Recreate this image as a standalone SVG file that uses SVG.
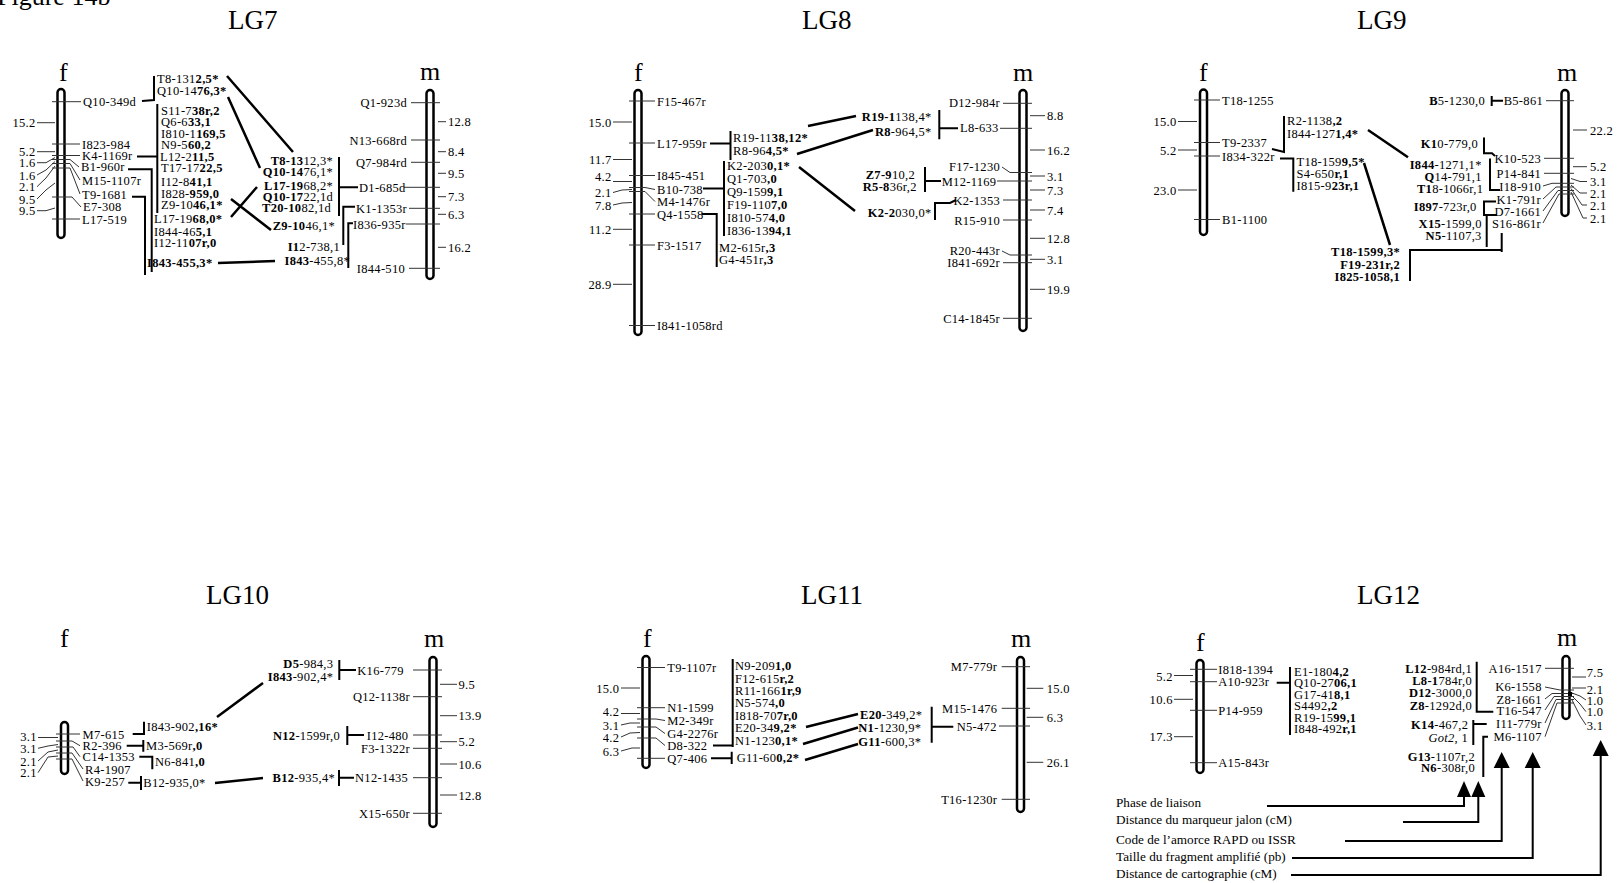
<svg xmlns="http://www.w3.org/2000/svg" width="1622" height="883" viewBox="0 0 1622 883">
<style>
text{font-family:"Liberation Serif","Times New Roman",serif;fill:#000}
.t{font-size:12.5px;letter-spacing:.3px}
.e{text-anchor:end}
.b{font-weight:bold}
.i{font-style:italic}
.ttl{font-size:27px}
.fm{font-size:26px}
.lg{font-size:13.2px}
.chr{fill:#fff;stroke:#000;stroke-width:2.5}
.tk{fill:none;stroke:#333;stroke-width:1}
.br{fill:none;stroke:#000;stroke-width:2}
.cx{fill:none;stroke:#000;stroke-width:2.5}
.ah{fill:#000}
</style>
<rect width="1622" height="883" fill="#fff"/>
<text x="-3" y="5" style="font-size:26px">Figure 14b</text>

<!-- ================= LG7 ================= -->
<g id="LG7">
<text class="ttl" x="228" y="29">LG7</text>
<g id="LG7-f">
<text class="fm" x="59" y="81">f</text>
<rect class="chr" x="57.5" y="89" width="7" height="149" rx="3.5"/>
<path class="tk" d="M52,101.7H81M52,144H80M52,155.5H80M52,159.5H70L79,167M52,163.5H70L80,180M52,168H70L80,194M52,197H72L81,207M52,219H80"/>
<path class="tk" d="M37,122.7H55M37,151.7H55M37,162.7L46,162.7L55,157.5M37,175L46,170L55,161.5M37,186.7L46,178L55,166M37,199L46,190L55,183M37,210.7H46L55,208"/>
<g class="t">
<text x="83" y="106">Q10-349d</text><text x="82" y="148.5">I823-984</text><text x="82" y="159.5">K4-1169r</text>
<text x="81" y="171">B1-960r</text><text x="82" y="184.5">M15-1107r</text><text x="82" y="198.5">T9-1681</text>
<text x="83" y="211">E7-308</text><text x="82" y="223.5">L17-519</text>
</g>
<g class="t e">
<text x="35.5" y="127">15.2</text><text x="35.5" y="156">5.2</text><text x="35.5" y="167">1.6</text><text x="35.5" y="179.5">1.6</text>
<text x="35.5" y="191">2.1</text><text x="35.5" y="203.5">9.5</text><text x="35.5" y="215">9.5</text>
</g>
</g>
<g id="LG7-fgroups" class="t">
<text x="157" y="83">T8-131<tspan class="b">2,5*</tspan></text>
<text x="157" y="95">Q10-14<tspan class="b">76,3*</tspan></text>
<text x="161" y="114.5">S11-7<tspan class="b">38r,2</tspan></text>
<text x="161" y="126">Q6-6<tspan class="b">33,1</tspan></text>
<text x="161" y="137.5">I810-1<tspan class="b">169,5</tspan></text>
<text x="161" y="149">N9-5<tspan class="b">60,2</tspan></text>
<text x="160" y="160.5">L12-2<tspan class="b">11,5</tspan></text>
<text x="161" y="172">T17-17<tspan class="b">22,5</tspan></text>
<text x="161" y="186">I12-8<tspan class="b">41,1</tspan></text>
<text x="161" y="197.5">I828-<tspan class="b">959,0</tspan></text>
<text x="161" y="209">Z9-10<tspan class="b">46,1*</tspan></text>
<text x="154" y="223">L17-19<tspan class="b">68,0*</tspan></text>
<text x="154" y="235.5">I844-46<tspan class="b">5,1</tspan></text>
<text x="154" y="246.5">I12-11<tspan class="b">07r,0</tspan></text>
<text x="147" y="267" class="b">I843-455,3*</text>
</g>
<g id="LG7-mgroups" class="t e">
<text x="333" y="164.5"><tspan class="b">T8-13</tspan>12,3*</text>
<text x="333" y="176"><tspan class="b">Q10-14</tspan>76,1*</text>
<text x="333" y="189.5"><tspan class="b">L17-19</tspan>68,2*</text>
<text x="333" y="200.5"><tspan class="b">Q10-17</tspan>22,1d</text>
<text x="331" y="211.5"><tspan class="b">T20-10</tspan>82,1d</text>
<text x="335" y="229.5"><tspan class="b">Z9-10</tspan>46,1*</text>
<text x="340" y="251"><tspan class="b">I1</tspan>2-738,1</text>
<text x="350" y="265"><tspan class="b">I843</tspan>-455,8*</text>
</g>
<g id="LG7-m">
<text class="fm" x="420" y="80">m</text>
<rect class="chr" x="426.5" y="90" width="7" height="189" rx="3.5"/>
<path class="tk" d="M411,102.7H440M411,140H440M411,162.3H440M404,187.3H440M409,208.3H440M406,224H440M409,268.3H440"/>
<path class="tk" d="M438,121.7H446M438,151.7H446M438,173.3H446M438,196.7H446M438,214.3H446M438,247.3H446"/>
<g class="t e"><text x="407" y="107">Q1-923d</text><text x="407" y="144.5">N13-668rd</text><text x="407" y="166.5">Q7-984rd</text><text x="405" y="272.5">I844-510</text></g>
<g class="t"><text x="359" y="191.5">D1-685d</text><text x="356" y="212.5">K1-1353r</text><text x="353" y="228.5">I836-935r</text>
<text x="448" y="126">12.8</text><text x="448" y="156">8.4</text><text x="448" y="177.5">9.5</text><text x="448" y="201">7.3</text><text x="448" y="218.5">6.3</text><text x="448" y="251.5">16.2</text></g>
</g>
<g id="LG7-connectors">
<path class="br" d="M142,101L154,100V76M137,156.5H157.3M157.3,104V213M128,169.3H151.7V272M132,196.7H145V275"/>
<path class="br" d="M339,157V216M340,187.3H358M355,206.7H343.3V245M353,223.3H348.3V268"/>
<path class="cx" d="M227,76L293,152M228,97L260,168M231,217L257,187M231,199L271,230M218,263L275,261"/>
</g>
</g>

<!-- ================= LG8 ================= -->
<g id="LG8">
<text class="ttl" x="802" y="29">LG8</text>
<g id="LG8-f">
<text class="fm" x="634" y="81">f</text>
<rect class="chr" x="634.5" y="90" width="7" height="245" rx="3.5"/>
<path class="tk" d="M629,101H655M629,143H655M629,175.5H655M629,187.5H645L655,189.5M629,191.5H645L655,201.5M629,214H655M629,245H655M629,325.5H655"/>
<path class="tk" d="M613,122H632M613,159.5H632M613,181.5H632M613,192.5L622,190L632,189.5M613,205L622,203L632,202.5M613,229.3H632M613,284.3H632"/>
<g class="t">
<text x="657" y="105.5">F15-467r</text><text x="657" y="147.5">L17-959r</text><text x="657" y="180">I845-451</text>
<text x="657" y="194">B10-738</text><text x="657" y="206">M4-1476r</text><text x="657" y="218.5">Q4-1558</text>
<text x="657" y="249.5">F3-1517</text><text x="657" y="330">I841-1058rd</text>
</g>
<g class="t e">
<text x="611.5" y="126.5">15.0</text><text x="611.5" y="164">11.7</text><text x="611.5" y="181">4.2</text><text x="611.5" y="196.5">2.1</text>
<text x="611.5" y="209.5">7.8</text><text x="611.5" y="233.5">11.2</text><text x="611.5" y="288.5">28.9</text>
</g>
</g>
<g id="LG8-fgroups" class="t">
<text x="733" y="142">R19-11<tspan class="b">38,12*</tspan></text>
<text x="733" y="155">R8-96<tspan class="b">4,5*</tspan></text>
<text x="727" y="170">K2-203<tspan class="b">0,1*</tspan></text>
<text x="727" y="182.5">Q1-703<tspan class="b">,0</tspan></text>
<text x="727" y="195.5">Q9-159<tspan class="b">9,1</tspan></text>
<text x="727" y="208.5">F19-110<tspan class="b">7,0</tspan></text>
<text x="727" y="221.5">I810-57<tspan class="b">4,0</tspan></text>
<text x="727" y="235">I836-13<tspan class="b">94,1</tspan></text>
<text x="719" y="251.5">M2-615r<tspan class="b">,3</tspan></text>
<text x="719" y="264">G4-451r<tspan class="b">,3</tspan></text>
</g>
<g id="LG8-mgroups" class="t e">
<text x="931.5" y="121"><tspan class="b">R19-1</tspan>138,4*</text>
<text x="931.5" y="135.5"><tspan class="b">R8</tspan>-964,5*</text>
<text x="915" y="178.5"><tspan class="b">Z7-9</tspan>10,2</text>
<text x="916.7" y="191"><tspan class="b">R5-8</tspan>36r,2</text>
<text x="931.5" y="217"><tspan class="b">K2-2</tspan>030,0*</text>
</g>
<g id="LG8-m">
<text class="fm" x="1013" y="81">m</text>
<rect class="chr" x="1019.5" y="90" width="7" height="241" rx="3.5"/>
<path class="tk" d="M1003,103.3H1032M1000,128.3H1032M1002,167L1010,172.5H1032M997,181H1032M1003,200H1032M1003,220H1032M1002,251L1010,255H1032M1003,262.7H1032M1003,318.3H1032"/>
<path class="tk" d="M1030,115.7H1045M1030,150H1045M1030,176H1045M1030,190H1045M1030,210H1045M1030,238.3H1045M1030,259.3H1045M1030,289.3H1045"/>
<g class="t e"><text x="1000" y="107">D12-984r</text><text x="1000" y="170.5">F17-1230</text><text x="1000" y="204.5">K2-1353</text>
<text x="1000" y="224.5">R15-910</text><text x="1000" y="254.5">R20-443r</text><text x="1000" y="267">I841-692r</text><text x="1000" y="322.5">C14-1845r</text></g>
<g class="t"><text x="960" y="132">L8-633</text><text x="941.7" y="185.5">M12-1169</text>
<text x="1047" y="120">8.8</text><text x="1047" y="154.5">16.2</text><text x="1047" y="180.5">3.1</text><text x="1047" y="194.5">7.3</text>
<text x="1047" y="214.5">7.4</text><text x="1047" y="242.5">12.8</text><text x="1047" y="263.5">3.1</text><text x="1047" y="293.5">19.9</text></g>
</g>
<g id="LG8-connectors">
<path class="br" d="M710,143.5H730.5M730.5,131V160M703,188.5H724M724,161V236M702,214H716.7V267"/>
<path class="br" d="M939.3,110V139.3M940,128.3H958M925,167V192M926,181H941M935,220V203H950L956,200"/>
<path class="cx" d="M808,126L856,116M797,154L873,130M799,167L855,211"/>
</g>
</g>

<!-- ================= LG9 ================= -->
<g id="LG9">
<text class="ttl" x="1357" y="29">LG9</text>
<g id="LG9-f">
<text class="fm" x="1199" y="81">f</text>
<rect class="chr" x="1200" y="89.5" width="7" height="145.5" rx="3.5"/>
<path class="tk" d="M1194,100H1220M1194,142.5H1220M1194,156H1220M1194,219.5H1220M1178,121.5H1197M1178,150H1197M1178,190H1197"/>
<g class="t"><text x="1222" y="104.5">T18-1255</text><text x="1222" y="147">T9-2337</text><text x="1222" y="160.5">I834-322r</text><text x="1222" y="224">B1-1100</text></g>
<g class="t e"><text x="1176.5" y="126">15.0</text><text x="1176.5" y="154.5">5.2</text><text x="1176.5" y="194.5">23.0</text></g>
</g>
<g id="LG9-fgroups" class="t">
<text x="1287" y="125">R2-1138<tspan class="b">,2</tspan></text>
<text x="1287" y="138">I844-127<tspan class="b">1,4*</tspan></text>
<text x="1296.5" y="165.5">T18-159<tspan class="b">9,5*</tspan></text>
<text x="1296.5" y="177.5">S4-650<tspan class="b">r,1</tspan></text>
<text x="1296.5" y="189.5">I815-9<tspan class="b">23r,1</tspan></text>
</g>
<g id="LG9-lowgroup" class="t e b">
<text x="1400" y="256">T18-1599,3*</text><text x="1400" y="268.5">F19-231r,2</text><text x="1400" y="280.5">I825-1058,1</text>
</g>
<g id="LG9-mgroups" class="t e">
<text x="1485" y="105"><tspan class="b">B</tspan>5-1230,0</text>
<text x="1478" y="147.5"><tspan class="b">K1</tspan>0-779,0</text>
<text x="1481.7" y="169"><tspan class="b">I844</tspan>-1271,1*</text>
<text x="1481.7" y="181"><tspan class="b">Q</tspan>14-791,1</text>
<text x="1483.3" y="192.5"><tspan class="b">T1</tspan>8-1066r,1</text>
<text x="1476.7" y="210.5"><tspan class="b">I897</tspan>-723r,0</text>
<text x="1481.7" y="227.5"><tspan class="b">X15</tspan>-1599,0</text>
<text x="1481.7" y="239.5"><tspan class="b">N5</tspan>-1107,3</text>
</g>
<g id="LG9-m">
<text class="fm" x="1557" y="81">m</text>
<rect class="chr" x="1561.5" y="90" width="7" height="126" rx="3.5"/>
<path class="tk" d="M1546,100.7H1574M1544,158.3H1574M1544,173.3H1574M1543,186L1552,183.3H1574M1543,199L1556,187H1574M1543,211L1558,190.5H1574M1543,223L1559,194H1574"/>
<path class="tk" d="M1573,130H1587M1573,166.7H1587M1571,178.5L1580,181.5H1587M1571,185L1580,193H1587M1571,188.5L1582,205H1587M1571,192L1583,218H1587"/>
<g class="t e"><text x="1543" y="105">B5-861</text><text x="1541" y="162.5">K10-523</text><text x="1541" y="177.5">P14-841</text>
<text x="1541" y="191">I18-910</text><text x="1541" y="203.5">K1-791r</text><text x="1541" y="216">D7-1661</text><text x="1541" y="227.5">S16-861r</text></g>
<g class="t"><text x="1590" y="134.5">22.2</text><text x="1590" y="171">5.2</text><text x="1590" y="186">3.1</text>
<text x="1590" y="197.5">2.1</text><text x="1590" y="209.5">2.1</text><text x="1590" y="222.5">2.1</text></g>
</g>
<g id="LG9-connectors">
<path class="br" d="M1272,149L1284,152V116M1280,158.5H1293.3V191.7"/>
<path class="br" d="M1410,281V250H1501.7M1501.7,233V252M1486.7,215V247"/>
<path class="br" d="M1491.7,96V106M1491.7,100.7H1503M1484,137.5V153.3H1492L1495,156M1490,158.5V190H1500M1496,201.5H1484V215H1497"/>
<path class="cx" d="M1368,130L1408,157.3M1364,163L1390,245"/>
</g>
</g>

<!-- ================= LG10 ================= -->
<g id="LG10">
<text class="ttl" x="206" y="604">LG10</text>
<g id="LG10-f">
<text class="fm" x="60" y="647">f</text>
<rect class="chr" x="61" y="722" width="7" height="52" rx="3.5"/>
<path class="tk" d="M56,734H80M56,741H72L80,745.7M56,747H73L80,756.7M56,753H72L83,769M56,759H72L83,781"/>
<path class="tk" d="M38,737.5H58M38,748.3L48,746L58,744.5M38,761L48,752L58,750M38,772.7L48,757L58,756"/>
<g class="t"><text x="82.5" y="738.5">M7-615</text><text x="82.5" y="750">R2-396</text><text x="82.5" y="761">C14-1353</text>
<text x="85" y="773.5">R4-1907</text><text x="85" y="785.5">K9-257</text></g>
<g class="t e"><text x="36.7" y="741">3.1</text><text x="36.7" y="752.5">3.1</text><text x="36.7" y="765.5">2.1</text><text x="36.7" y="777">2.1</text></g>
</g>
<g id="LG10-fgroups" class="t">
<text x="146.7" y="731">I843-902<tspan class="b">,16*</tspan></text>
<text x="146" y="750">M3-569r<tspan class="b">,0</tspan></text>
<text x="155" y="766">N6-841<tspan class="b">,0</tspan></text>
<text x="143.3" y="787">B12-935,0*</text>
</g>
<g id="LG10-mgroups" class="t e">
<text x="333.3" y="667.5"><tspan class="b">D5</tspan>-984,3</text>
<text x="333.3" y="680.5"><tspan class="b">I843</tspan>-902,4*</text>
<text x="340" y="739.5"><tspan class="b">N12</tspan>-1599r,0</text>
<text x="335" y="782"><tspan class="b">B12</tspan>-935,4*</text>
</g>
<g id="LG10-m">
<text class="fm" x="424" y="647">m</text>
<rect class="chr" x="429.5" y="657" width="7" height="170" rx="3.5"/>
<path class="tk" d="M413,670H442M413,696.7H442M413,735H442M413,748.3H442M413,777.7H442M413,813.3H442"/>
<path class="tk" d="M440,684.3H457M440,715.7H457M440,741.7H457M440,764H457M440,795H457"/>
<g class="t"><text x="357.3" y="674.5">K16-779</text><text x="366.7" y="739.5">I12-480</text><text x="355" y="782">N12-1435</text>
<text x="458.5" y="688.5">9.5</text><text x="458.5" y="720">13.9</text><text x="458.5" y="746">5.2</text><text x="458.5" y="768.5">10.6</text><text x="458.5" y="799.5">12.8</text></g>
<g class="t e"><text x="410" y="701">Q12-1138r</text><text x="410" y="752.5">F3-1322r</text><text x="410" y="817.5">X15-650r</text></g>
</g>
<g id="LG10-connectors">
<path class="br" d="M132.7,734H144V721.7M126.7,745.7H143.3M143.3,740V751.7M139.3,756.7H152.3V769.3M128.3,782.7H141M141,776V790"/>
<path class="br" d="M339.3,660V680M339.3,670H356M347.3,726V745M348,735H364M339,770V786M339,777.7H354"/>
<path class="cx" d="M217,717L263,683M215,783L263,778"/>
</g>
</g>

<!-- ================= LG11 ================= -->
<g id="LG11">
<text class="ttl" x="801" y="604">LG11</text>
<g id="LG11-f">
<text class="fm" x="643" y="647">f</text>
<rect class="chr" x="642.5" y="656" width="7" height="112" rx="3.5"/>
<path class="tk" d="M637,667.5H665M637,707.7H665M637,719H656L665,720.5M637,727H656L665,733.5M637,738H656L665,745.5M637,758.3H665"/>
<path class="tk" d="M621,688H640M621,713.5H640M621,725L630,723L640,723M621,737L630,733L640,732.5M621,751L632,748L640,748"/>
<g class="t"><text x="667.3" y="672">T9-1107r</text><text x="667.3" y="712">N1-1599</text><text x="667.3" y="725">M2-349r</text>
<text x="667.3" y="738">G4-2276r</text><text x="667.3" y="750">D8-322</text><text x="667.3" y="762.5">Q7-406</text></g>
<g class="t e"><text x="619.3" y="692.5">15.0</text><text x="619.3" y="716">4.2</text><text x="619.3" y="730">3.1</text><text x="619.3" y="742">4.2</text><text x="619.3" y="755.5">6.3</text></g>
</g>
<g id="LG11-fgroups" class="t">
<text x="735" y="670">N9-209<tspan class="b">1,0</tspan></text>
<text x="735" y="682.5">F12-615<tspan class="b">r,2</tspan></text>
<text x="735" y="694.5">R11-166<tspan class="b">1r,9</tspan></text>
<text x="735" y="707">N5-574<tspan class="b">,0</tspan></text>
<text x="735" y="719.5">I818-70<tspan class="b">7r,0</tspan></text>
<text x="735" y="732">E20-34<tspan class="b">9,2*</tspan></text>
<text x="735" y="745">N1-123<tspan class="b">0,1*</tspan></text>
<text x="736.7" y="761.5">G11-60<tspan class="b">0,2*</tspan></text>
</g>
<g id="LG11-mgroups" class="t">
<text x="860" y="718.5"><tspan class="b">E20</tspan>-349,2*</text>
<text x="858.3" y="731.5"><tspan class="b">N1</tspan>-1230,9*</text>
<text x="858.3" y="746"><tspan class="b">G11</tspan>-600,3*</text>
</g>
<g id="LG11-m">
<text class="fm" x="1011" y="647">m</text>
<rect class="chr" x="1017" y="657" width="7" height="155" rx="3.5"/>
<path class="tk" d="M1001.7,666.7H1030M1001.7,708.3H1030M999,726H1030M1001.7,799.3H1030M1026.7,688.3H1043.3M1026.7,717.3H1043.3M1026.7,762.3H1043.3"/>
<g class="t e"><text x="997.3" y="671">M7-779r</text><text x="997.3" y="712.5">M15-1476</text><text x="997.3" y="803.5">T16-1230r</text></g>
<g class="t"><text x="956.7" y="730.5">N5-472</text><text x="1046.7" y="692.5">15.0</text><text x="1046.7" y="721.5">6.3</text><text x="1046.7" y="766.5">26.1</text></g>
</g>
<g id="LG11-connectors">
<path class="br" d="M732.7,659V747M713,745.5H732.7M711,758.3H731.7M731.7,751.7V764M931.7,706.7V742.7M931.7,726.7H953.3"/>
<path class="cx" d="M806,727L858,714M803,744L858,727.5M805,760L858,744"/>
</g>
</g>

<!-- ================= LG12 ================= -->
<g id="LG12">
<text class="ttl" x="1357" y="604">LG12</text>
<g id="LG12-f">
<text class="fm" x="1196" y="651">f</text>
<rect class="chr" x="1196.5" y="660" width="7" height="113" rx="3.5"/>
<path class="tk" d="M1190,669.3H1217M1190,681.7H1217M1190,710.3H1217M1190,762.7H1217M1174,675.5H1193M1174,699.3H1193M1174,736.7H1193"/>
<g class="t"><text x="1218.3" y="673.5">I818-1394</text><text x="1218.3" y="686">A10-923r</text><text x="1218.3" y="714.5">P14-959</text><text x="1218.3" y="767">A15-843r</text></g>
<g class="t e"><text x="1172.7" y="681">5.2</text><text x="1172.7" y="703.5">10.6</text><text x="1172.7" y="741">17.3</text></g>
</g>
<g id="LG12-fgroups" class="t">
<text x="1294" y="675.5">E1-180<tspan class="b">4,2</tspan></text>
<text x="1294" y="687">Q10-27<tspan class="b">06,1</tspan></text>
<text x="1294" y="698.5">G17-41<tspan class="b">8,1</tspan></text>
<text x="1294" y="710">S4492<tspan class="b">,2</tspan></text>
<text x="1294" y="721.5">R19-15<tspan class="b">99,1</tspan></text>
<text x="1294" y="733">I848-492<tspan class="b">r,1</tspan></text>
</g>
<g id="LG12-mgroups" class="t e">
<text x="1472" y="672.5"><tspan class="b">L12</tspan>-984rd,1</text>
<text x="1472" y="684.5"><tspan class="b">L8-1</tspan>784r,0</text>
<text x="1472" y="697"><tspan class="b">D12</tspan>-3000,0</text>
<text x="1472" y="709.5"><tspan class="b">Z8</tspan>-1292d,0</text>
<text x="1468.3" y="729"><tspan class="b">K14</tspan>-467,2</text>
<text x="1468" y="742"><tspan class="i">Got2</tspan>, 1</text>
<text x="1475" y="760.5"><tspan class="b">G13</tspan>-1107r,2</text>
<text x="1475" y="771.5"><tspan class="b">N6</tspan>-308r,0</text>
</g>
<g id="LG12-m">
<text class="fm" x="1557" y="646">m</text>
<rect class="chr" x="1562.5" y="656" width="7" height="63" rx="3.5"/>
<path class="tk" d="M1545,668.3H1574M1545,687L1560,690H1574M1545,699L1552,693.5H1574M1545,710L1554,696.5H1574M1545,723L1556,699.5H1574M1545,736.7L1557,703H1574"/>
<rect x="1568" y="692" width="4" height="4" fill="#000"/>
<path class="tk" d="M1572,677H1586M1572,688H1586M1572,693L1580,696L1586,700M1572,696L1580,704L1586,711.7M1572,700L1580,716L1586,725"/>
<g class="t e"><text x="1541.7" y="672.5">A16-1517</text><text x="1541.7" y="691">K6-1558</text><text x="1541.7" y="703.5">Z8-1661</text>
<text x="1541.7" y="714.5">T16-547</text><text x="1541.7" y="727.5">I11-779r</text><text x="1541.7" y="741">M6-1107</text></g>
<g class="t"><text x="1586.7" y="677">7.5</text><text x="1586.7" y="693.5">2.1</text><text x="1586.7" y="704.5">1.0</text><text x="1586.7" y="716">1.0</text><text x="1586.7" y="729.5">3.1</text></g>
</g>
<g id="LG12-connectors">
<path class="br" d="M1276.7,682.7H1290M1290,667V735"/>
<path class="br" d="M1476.7,661.7V711.7H1493.3M1473.3,720V745M1473.3,724H1486.7M1483.3,777V736.7H1488"/>
</g>
<g id="LG12-legend">
<g class="lg">
<text x="1116" y="807">Phase de liaison</text>
<text x="1116" y="824">Distance du marqueur jalon (cM)</text>
<text x="1116" y="843.5">Code de l’amorce RAPD ou ISSR</text>
<text x="1116" y="861">Taille du fragment amplifié (pb)</text>
<text x="1116" y="877.5">Distance de cartographie (cM)</text>
</g>
<path class="br" d="M1267,806H1464V796M1403,822H1478.3V796M1345,841H1501.7V767M1292,858H1532.7V767M1291,875H1600.7V755"/>
<polygon class="ah" points="1464,781 1457,797 1471,797"/>
<polygon class="ah" points="1478.3,781 1471.3,797 1485.3,797"/>
<polygon class="ah" points="1501.7,752 1493.7,768 1509.7,768"/>
<polygon class="ah" points="1532.7,752 1524.7,768 1540.7,768"/>
<polygon class="ah" points="1600.7,740 1592.7,756 1608.7,756"/>
</g>
</g>
</svg>
